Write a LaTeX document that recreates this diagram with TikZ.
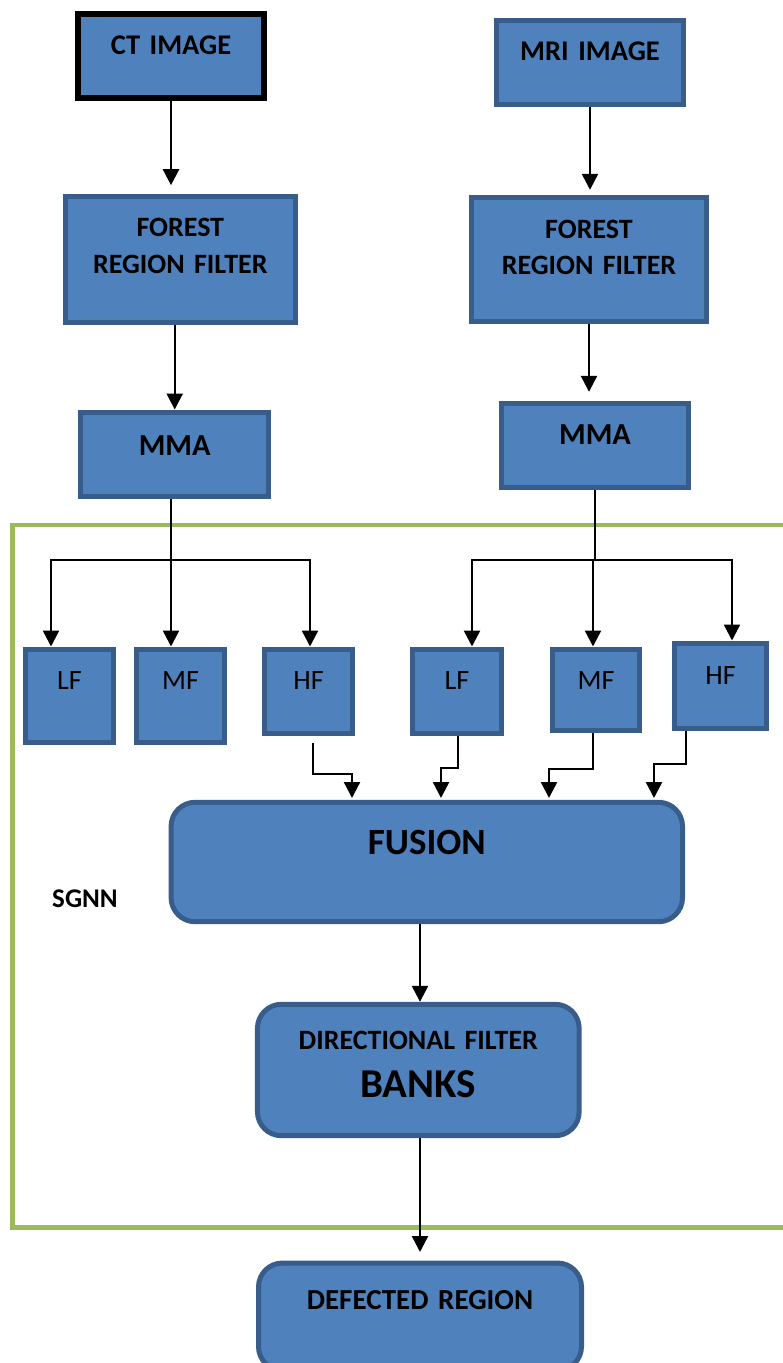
\documentclass[tikz,border=0pt]{standalone}
\usepackage{fontspec}
\setmainfont{Carlito}[WordSpace=0.7]
\usetikzlibrary{arrows.meta}
\definecolor{boxfill}{HTML}{4F81BD}
\definecolor{boxline}{HTML}{385D8A}
\definecolor{framegreen}{HTML}{9BBB59}
\begin{document}
\begin{tikzpicture}[x=1pt,y=-1pt,stage box/.style={draw=boxline, fill=boxfill, line width=5pt, inner sep=0pt, anchor=north, align=center, font=\bfseries\fontsize{#1}{36.5}\selectfont},stage box/.default=28,round box/.style={stage box=#1, rounded corners=24pt},band box/.style={draw=boxline, fill=boxfill, line width=5pt, inner sep=0pt, anchor=north, align=center, font=\fontsize{28}{33}\selectfont},link/.style={line width=2.4pt, -{Triangle[width=16pt,length=16pt]}},bus/.style={line width=2.4pt},frame/.style={draw=framegreen, line width=4.5pt}]%
\path[use as bounding box] (0,0) rectangle (782,1363);%
  % CT branch%
\node[stage box=28.5, line width=6pt, draw=black, text width=186pt, text height=39.7pt, text depth=43.7pt] (ct) at (171,11.3) {CT IMAGE};%
\node[stage box, text width=230.3pt, text height=40.1pt, text depth=85.9pt] (frl) at (180.3,194.2) {FOREST\\REGION FILTER};%
\node[stage box=30.5, text width=187.7pt, text height=43.2pt, text depth=41.5pt] (mmal) at (174.7,409.5) {MMA};%
  % MRI branch%
\node[stage box=28.5, text width=187pt, text height=40.8pt, text depth=43.5pt] (mri) at (590,17.5) {MRI IMAGE};%
\node[stage box, text width=234.4pt, text height=40.9pt, text depth=82.8pt] (frr) at (589,194.8) {FOREST\\REGION FILTER};%
\node[stage box=30.5, text width=186.4pt, text height=40.9pt, text depth=43.5pt] (mmar) at (595,400.8) {MMA};%
  % SGNN frame%
\draw[frame] (790,525) -- (12.5,525) -- (12.5,1227.5) -- (790,1227.5);%
\node[font=\bfseries\fontsize{27}{32}\selectfont, anchor=base] (sgnn) at (85,907.3) {SGNN};%
  % bands%
\node[band box, text width=88pt, text height=40.8pt, text depth=52.2pt] (lfl) at (69.5,646.5) {LF};%
\node[band box, text width=88pt, text height=40.8pt, text depth=52.2pt] (mfl) at (180.5,646.5) {MF};%
\node[band box, text width=88pt, text height=40.8pt, text depth=43.2pt] (hfl) at (308.5,646.5) {HF};%
\node[band box, text width=89pt, text height=40.8pt, text depth=43.2pt] (lfr) at (457,646.5) {LF};%
\node[band box, text width=87pt, text height=40.8pt, text depth=40.2pt] (mfr) at (596,646.5) {MF};%
\node[band box, text width=92pt, text height=41.2pt, text depth=43.8pt] (hfr) at (720.5,640.5) {HF};%
  % fusion and output%
\node[round box=37, text width=511.4pt, text height=52.5pt, text depth=66.9pt] (fusion) at (426.8,799.8) {FUSION};%
\node[round box=28, font=\bfseries\fontsize{28}{48.3}\selectfont, text width=321.7pt, text height=45.3pt, text depth=86.1pt] (dfb) at (418.3,1001.8) {DIRECTIONAL FILTER\\{\fontsize{41}{48.3}\selectfont BANKS}};%
\node[round box=29, text width=323pt, text height=46pt, text depth=61.5pt] (def) at (420,1260.5) {DEFECTED REGION};%
  % split points%
\coordinate (splitl) at (171,560);%
\coordinate (splitr) at (595,560);%
\coordinate (lfl in) at (51,560);%
\coordinate (hfl in) at (310,560);%
\coordinate (lfr in) at (472,560);%
\coordinate (mfr in) at (593,560);%
\coordinate (hfr in) at (732,560);%
\coordinate (fin1) at (352,798);%
\coordinate (fin2) at (441,798);%
\coordinate (fin3) at (549,798);%
\coordinate (fin4) at (654,798);%
  % connectors%
\draw[link, shorten >=9pt] (ct.south) -- (ct.south |- frl.north);%
\draw[link] (mmal.north |- frl.south) -- (mmal.north);%
\draw[link, shorten >=5pt] (mri.south) -- (mri.south |- frr.north);%
\draw[link, shorten >=9pt] (frr.south) -- (frr.south |- mmar.north);%
\draw[bus] (splitl |- mmal.south) -- (splitl);%
\draw[link] (splitl) -| (lfl in |- lfl.north);%
\draw[link] (splitl) -- (splitl |- mfl.north);%
\draw[link] (splitl) -| (hfl in |- hfl.north);%
\draw[bus] (splitr |- mmar.south) -- (splitr);%
\draw[link] (splitr) -| (lfr in |- lfr.north);%
\draw[link] (mfr in) -- (mfr in |- mfr.north);%
\draw[link] (splitr) -| (hfr in |- hfr.north);%
\draw[link] ([xshift=4.5pt,yshift=-7.5pt]hfl.south) -- ++(0,31) -| (fin1);%
\draw[link] ([xshift=1pt]lfr.south) -- ++(0,32.5) -| (fin2);%
\draw[link] ([xshift=-3pt]mfr.south) -- ++(0,36.5) -| (fin3);%
\draw[link] ([xshift=-34.5pt]hfr.south) -- ++(0,33.5) -| (fin4);%
\draw[link] (fusion.south -| def.north) -- (dfb.north -| def.north);%
\draw[link, shorten >=8.5pt] (dfb.south -| def.north) -- (def.north);%
\end{tikzpicture}
\end{document}
